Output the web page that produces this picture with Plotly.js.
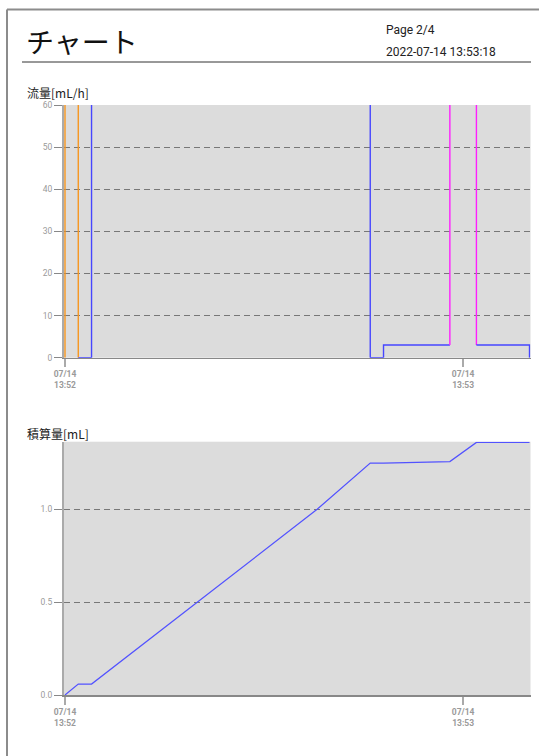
<!DOCTYPE html>
<html>
<head>
<meta charset="utf-8">
<script src="https://cdn.plot.ly/plotly-3.0.1.min.js"></script>
<style>
html,body{margin:0;padding:0;background:#fff;}
#chart{width:539px;height:756px;}
</style>
</head>
<body>
<div id="chart"></div>
<script>
// ---- data ----
const DAY = '2022-07-14 ';
const pageTitle = 'チャート';
const pageLabel = 'Page 2/4';
const printedAt = '2022-07-14 13:53:18';
const flowTitle = '流量[mL/h]';
const cumTitle = '積算量[mL]';

// flow: interval boundaries, rate during each interval, mode of each interval
const flowTimes = ['13:52:00','13:52:02','13:52:04','13:52:46','13:52:48','13:52:58','13:53:02','13:53:10'];
const flowRates = [106, 0, 102, 0, 3, 90, 3];
const flowModes = ['prime','normal','normal','normal','normal','bolus','normal'];

// cumulative volume
const cumTimes = ['13:52:00','13:52:02','13:52:04','13:52:38','13:52:46','13:52:48','13:52:58','13:53:02','13:53:10'];
const cumValues = [0, 0.059, 0.059, 1.0, 1.249, 1.249, 1.257, 1.36, 1.36];

const xStart = '13:51:59.85';
const xEnd = '13:53:10.15';
const xTick0 = '13:52:00';

// ---- styles ----
const modeColor = {prime:'#f7961f', normal:'#4646ff', bolus:'#ff1eff'};
const W = 539, H = 756;
const px = v => v / W;
const py = v => 1 - v / H;

const traces = [];
const n = flowRates.length;
for (let i = 0; i < n; i++) {
  const r = flowRates[i];
  const prev = i > 0 ? flowRates[i-1] : 0;
  const next = i < n-1 ? flowRates[i+1] : 0;
  const t0 = DAY + flowTimes[i], t1 = DAY + flowTimes[i+1];
  const xs = [], ys = [];
  if (r > prev) { xs.push(t0); ys.push(prev); }
  xs.push(t0, t1); ys.push(r, r);
  if (next < r) { xs.push(t1); ys.push(next); }
  traces.push({x: xs, y: ys, xaxis:'x', yaxis:'y', type:'scatter', mode:'lines',
    line:{color: modeColor[flowModes[i]], width:1.4}, hoverinfo:'skip', showlegend:false});
}
traces.push({x: cumTimes.map(t => DAY + t), y: cumValues, xaxis:'x2', yaxis:'y2',
  type:'scatter', mode:'lines', line:{color:'#5252ff', width:1.2}, hoverinfo:'skip', showlegend:false});

const xd = [px(64), px(530.5)];
const xCommon = {
  domain: xd, type:'date', range:[DAY+xStart, DAY+xEnd],
  tick0: DAY+xTick0, dtick: 60000, tickformat:'%m/%d<br>%H:%M',
  ticks:'outside', ticklen:8, tickwidth:2, tickcolor:'#aaaaaa',
  showline:true, linecolor:'#888888', linewidth:1.5,
  showgrid:false, zeroline:false, fixedrange:true,
  tickfont:{family:'Roboto, sans-serif', size:8.5, color:'#9a9a9a', weight:'bold'}
};
const yCommon = {
  ticks:'outside', ticklen:8, tickwidth:1, tickcolor:'#888888',
  showgrid:true, gridcolor:'#777777', gridwidth:1, griddash:'6px,4px',
  showline:true, linecolor:'#aaaaaa', linewidth:2, layer:'below traces',
  zeroline:false, fixedrange:true,
  tickfont:{family:'Roboto, sans-serif', size:8.5, color:'#9a9a9a'}
};

const ann = (text, x, y, size, family, color) => ({
  text, x: px(x), y: py(y), xref:'paper', yref:'paper', xanchor:'left', yanchor:'middle',
  showarrow:false, font:{size, family, color}
});

const layout = {
  width: W, height: H,
  margin:{l:0, r:0, t:0, b:0},
  paper_bgcolor:'#ffffff', plot_bgcolor:'#dcdcdc',
  showlegend:false,
  xaxis: Object.assign({}, xCommon, {anchor:'y'}),
  yaxis: Object.assign({}, yCommon, {domain:[py(357.7), py(105)], range:[0,60], dtick:10, anchor:'x'}),
  xaxis2: Object.assign({}, xCommon, {anchor:'y2'}),
  yaxis2: Object.assign({}, yCommon, {domain:[py(695), py(441.7)], range:[0,1.364], dtick:0.5, tickformat:'.1f', anchor:'x2'}),
  shapes: [
    {type:'line', xref:'paper', yref:'paper', x0:px(7), x1:px(7), y0:py(9.5), y1:0, line:{color:'#8c8c8c', width:2}},
    {type:'line', xref:'paper', yref:'paper', x0:px(7), x1:1, y0:py(9.5), y1:py(9.5), line:{color:'#8c8c8c', width:2}},
    {type:'line', xref:'paper', yref:'paper', x0:px(22), x1:px(531), y0:py(62), y1:py(62), line:{color:'#333333', width:1}}
  ],
  annotations: [
    ann(pageTitle, 24, 41, 28, 'Noto Sans CJK JP, sans-serif', '#111111'),
    ann(pageLabel, 384, 30, 12, 'Roboto, sans-serif', '#222222'),
    ann(printedAt, 384, 52, 12, 'Roboto, sans-serif', '#222222'),
    ann(flowTitle, 25, 92.5, 12, 'Noto Sans CJK JP, sans-serif', '#222222'),
    ann(cumTitle, 25, 433, 12, 'Noto Sans CJK JP, sans-serif', '#222222')
  ]
};

Plotly.newPlot('chart', traces, layout, {staticPlot:true, displayModeBar:false});
</script>
</body>
</html>
